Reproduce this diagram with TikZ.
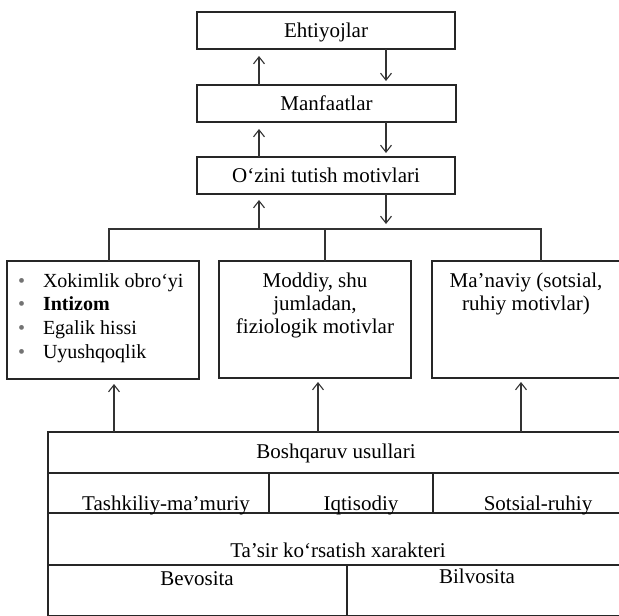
\documentclass[tikz,border=0pt]{standalone}
\usepackage{fontspec}
\setmainfont{Liberation Serif}
\usetikzlibrary{arrows.meta}
\begin{document}
\begin{tikzpicture}[x=1pt,y=-1pt,
  frame/.style={draw=black!85, line width=1.1pt, inner sep=0pt, outer sep=0pt},
  hbox/.style={frame, font=\fontsize{21}{23.3}\selectfont, text height=14pt, text depth=0pt},
  lbl/.style={inner sep=0pt, outer sep=0pt, font=\fontsize{21}{23.3}\selectfont, anchor=base},
  link/.style={draw=black!80, line width=1.1pt},
  arr/.style={link, -{Straight Barb[length=7pt,width=11pt,line width=1.1pt]}},
]
\useasboundingbox (0,0) rectangle (619,616);

% chain of needs, interests and behaviour motives
\node[hbox, minimum width=258pt, minimum height=37pt] (ehti) at (326,30.5) {Ehtiyojlar};
\node[hbox, minimum width=259pt, minimum height=37pt] (manf) at (326.5,103.5) {Manfaatlar};
\node[hbox, minimum width=258pt, minimum height=37pt] (ozini) at (326,175.5) {O‘zini tutish motivlari};

% three groups of motives
\node[frame, minimum width=192pt, minimum height=118pt] (lbox) at (103,320) {};
\node[frame, minimum width=192pt, minimum height=117pt] (mbox) at (315,319.5) {};
\node[frame, minimum width=189pt, minimum height=117pt] (rbox) at (526.5,319.5) {};

\node[lbl, anchor=base west, font=\fontsize{20}{23.7}\selectfont] (ltext) at (18,287)
  {\begin{tabular}[t]{@{}l@{}}
   \makebox[25pt][l]{\textcolor{black!55}{\textbullet}}Xokimlik obro‘yi\\
   \makebox[25pt][l]{\textcolor{black!55}{\textbullet}}\textbf{Intizom}\\
   \makebox[25pt][l]{\textcolor{black!55}{\textbullet}}Egalik hissi\\
   \makebox[25pt][l]{\textcolor{black!55}{\textbullet}}Uyushqoqlik
   \end{tabular}};
\node[lbl] (mtext) at (315,287)
  {\begin{tabular}[t]{@{}c@{}}Moddiy, shu\\jumladan,\\fiziologik motivlar\end{tabular}};
\node[lbl] (rtext) at (526,287)
  {\begin{tabular}[t]{@{}c@{}}Ma’naviy (sotsial,\\ruhiy motivlar)\end{tabular}};

% table of management methods
\node[frame, minimum width=573pt, minimum height=41pt] (usul) at (334.5,452.5) {};
\node[frame, minimum width=221pt, minimum height=40pt] (tash) at (158.5,493) {};
\node[frame, minimum width=164pt, minimum height=40pt] (iqti) at (351,493) {};
\node[frame, minimum width=188pt, minimum height=40pt] (sots) at (527,493) {};
\node[frame, minimum width=573pt, minimum height=52pt] (tasir) at (334.5,539) {};
\node[frame, minimum width=299pt, minimum height=51pt] (bevo) at (197.5,590.5) {};
\node[frame, minimum width=274pt, minimum height=51pt] (bilv) at (484,590.5) {};

\node[lbl] (usullbl) at (336,458) {Boshqaruv usullari};
\node[lbl] (tashlbl) at (166,510) {Tashkiliy-ma’muriy};
\node[lbl] (iqtilbl) at (361,510) {Iqtisodiy};
\node[lbl] (sotslbl) at (538,510) {Sotsial-ruhiy};
\node[lbl] (tasirlbl) at (338,557) {Ta’sir ko‘rsatish xarakteri};
\node[lbl] (bevolbl) at (197,585) {Bevosita};
\node[lbl] (bilvlbl) at (477,583) {Bilvosita};

% connector columns
\coordinate (cu) at (259,0);
\coordinate (cd) at (386,0);
\coordinate (busL) at (109,229);
\coordinate (busM) at (325,229);
\coordinate (busR) at (541,229);
\coordinate (ka) at (114,0);
\coordinate (kb) at (318,0);
\coordinate (kc) at (521,0);

\draw[arr, shorten >=7pt] (manf.north -| cu) -- (ehti.south -| cu);
\draw[arr, shorten >=4pt] (ehti.south -| cd) -- (manf.north -| cd);
\draw[arr, shorten >=7pt] (ozini.north -| cu) -- (manf.south -| cu);
\draw[arr, shorten >=4pt] (manf.south -| cd) -- (ozini.north -| cd);
\draw[arr, shorten >=6pt] (busL -| cu) -- (ozini.south -| cu);
\draw[arr, shorten >=5pt] (ozini.south -| cd) -- (busL -| cd);

\draw[link] (lbox.north -| busL) -- (busL) -- (busR) -- (rbox.north -| busR);
\draw[link] (busM) -- (mbox.north -| busM);

\draw[arr, shorten >=5pt] (usul.north -| ka) -- (lbox.south -| ka);
\draw[arr, shorten >=4pt] (usul.north -| kb) -- (mbox.south -| kb);
\draw[arr, shorten >=4pt] (usul.north -| kc) -- (rbox.south -| kc);
\end{tikzpicture}
\end{document}
